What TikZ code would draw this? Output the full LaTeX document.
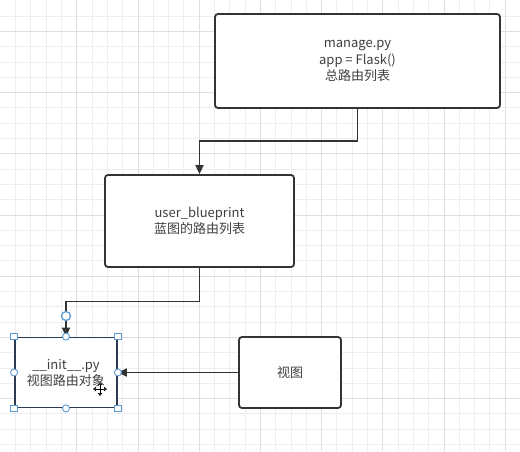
\documentclass[tikz,border=0pt]{standalone}
\usepackage{fontspec}
\setmainfont{Noto Sans CJK SC}
\usetikzlibrary{arrows.meta}
\definecolor{gridminor}{HTML}{EEEEF0}
\definecolor{gridmajor}{HTML}{DEDEE2}
\definecolor{boxline}{HTML}{333333}
\definecolor{txt}{HTML}{404040}
\definecolor{selline}{HTML}{2E3B4E}
\definecolor{handle}{HTML}{5B9BD5}
\tikzset{
  box/.style={draw=boxline, line width=1.8pt, rounded corners=3pt, fill=white,
    align=center, text=txt, font=\fontsize{13}{16.5}\selectfont, inner sep=0pt},
  selbox/.style={draw=selline, line width=1.8pt, fill=white,
    align=center, text=txt, font=\fontsize{13}{16}\selectfont, inner sep=0pt},
  conn/.style={draw=boxline, line width=1.8pt, -{Triangle[length=9pt,width=8pt]}},
  sq/.style={draw=handle, fill=white, line width=0.9pt, minimum size=6.5pt, inner sep=0pt, rectangle},
  dot/.style={draw=handle, fill=white, line width=0.9pt, minimum size=7pt, inner sep=0pt, circle},
  bigdot/.style={draw=handle, fill=white, line width=1.3pt, minimum size=9pt, inner sep=0pt, circle},
  cur/.style={draw=black, line width=0.7pt, {Triangle[length=3pt,width=4.5pt,fill=white]}-{Triangle[length=3pt,width=4.5pt,fill=white]}}
}
\begin{document}
\begin{tikzpicture}[x=1pt,y=-1pt]
\useasboundingbox (0,0) rectangle (520,451);
\fill[white] (0,0) rectangle (520,451);
% grid
\foreach \i in {0,...,33} {
  \pgfmathsetmacro{\gx}{15.5+15.3*\i}
  \draw[gridminor, line width=0.8pt] (\gx,0) -- (\gx,451);
}
\foreach \i in {0,...,28} {
  \pgfmathsetmacro{\gy}{16+15.3*\i}
  \draw[gridminor, line width=0.8pt] (0,\gy) -- (520,\gy);
}
\foreach \i in {0,...,7} {
  \pgfmathsetmacro{\gx}{15.5+61.2*\i+61.2}
  \draw[gridmajor, line width=0.8pt] (\gx,0) -- (\gx,451);
}
\foreach \i in {0,...,6} {
  \pgfmathsetmacro{\gy}{31.3+61.2*\i}
  \draw[gridmajor, line width=0.8pt] (0,\gy) -- (520,\gy);
}

% boxes
\node[box, minimum width=285pt, minimum height=94pt] (manage) at (357.5,61)
  {manage.py\\app = Flask()\\总路由列表};
\node[box, minimum width=189pt, minimum height=92pt] (user) at (199.5,221)
  {user\_blueprint\\蓝图的路由列表};
\node[box, minimum width=102pt, minimum height=71pt] (view) at (290,372.5) {视图};
\node[selbox, minimum width=102pt, minimum height=70pt] (init) at (66,372.5)
  {\_\_init\_\_.py\\视图路由对象};

% connectors
\coordinate (k1) at (357.5,141);
\coordinate (k2) at (199.5,301.5);
\draw[conn] (manage.south) -- (k1) -| (user.north);
\draw[conn] (user.south) -- (k2) -| (init.north);
\draw[conn] (view.west) -- (init.east);

% selection handles
\node[bigdot] (endpt) at (66,316) {};
\foreach \a in {north west,north east,south west,south east}
  \node[sq] at (init.\a) {};
\foreach \a in {north,south,east,west}
  \node[dot] at (init.\a) {};

% mouse cursor
\coordinate (ch1) at (93,389);
\coordinate (ch2) at (107,389);
\coordinate (cv1) at (100,382);
\coordinate (cv2) at (100,396);
\draw[white, line width=2.2pt] (ch1) -- (ch2) (cv1) -- (cv2);
\draw[cur] (ch1) -- (ch2);
\draw[cur] (cv1) -- (cv2);
\end{tikzpicture}
\end{document}
